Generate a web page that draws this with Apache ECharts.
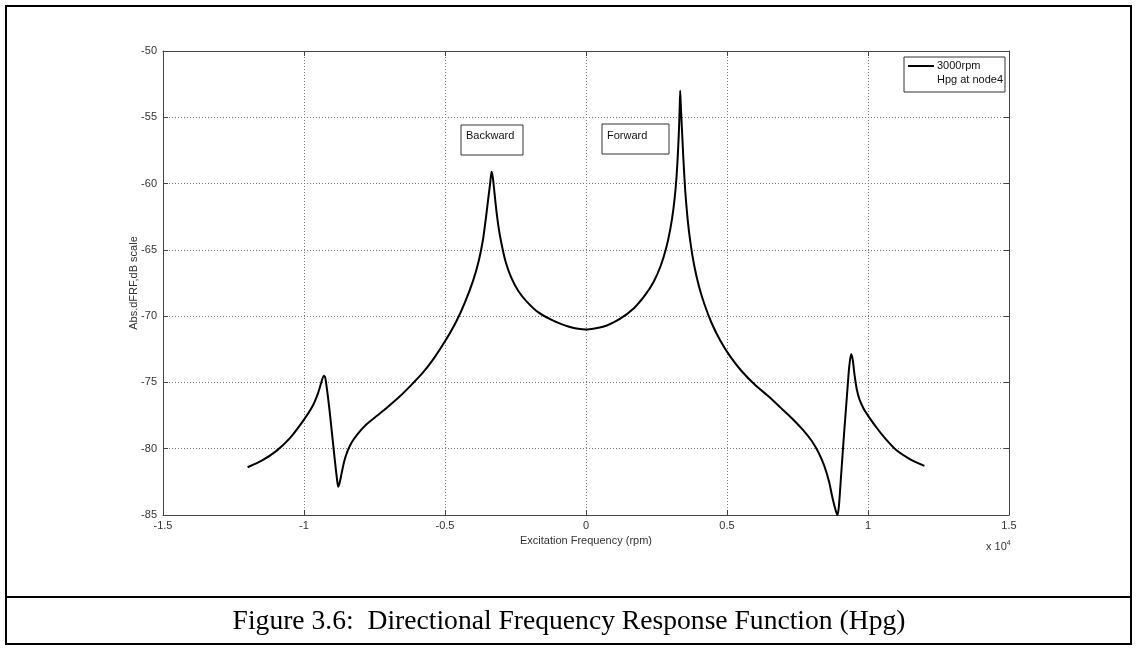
<!DOCTYPE html>
<html>
<head>
<meta charset="utf-8">
<script src="https://cdn.jsdelivr.net/npm/echarts@6/dist/echarts.min.js"></script>
<style>
html,body{margin:0;padding:0;background:#fff;}
#frf{width:1137px;height:651px;}
</style>
</head>
<body>
<div id="frf"></div>
<script>
// excitation frequency (x 10^4 rpm)
var freq = [-1.2, -1.15, -1.1, -1.05, -1.0, -0.97, -0.95, -0.94, -0.93, -0.925, -0.918, -0.91, -0.9, -0.89, -0.883,
  -0.879, -0.874, -0.867, -0.858, -0.846, -0.83, -0.81, -0.78, -0.74, -0.7, -0.66, -0.62, -0.58, -0.54, -0.5, -0.46,
  -0.43, -0.4, -0.38, -0.365, -0.355, -0.347, -0.34, -0.335, -0.33, -0.325, -0.318, -0.31, -0.3, -0.285, -0.265,
  -0.24, -0.21, -0.17, -0.12, -0.06, 0, 0.06, 0.12, 0.17, 0.21, 0.24, 0.265, 0.285, 0.3, 0.31, 0.318, 0.324, 0.329,
  0.332, 0.334, 0.336, 0.34, 0.345, 0.352, 0.36, 0.37, 0.383, 0.4, 0.42, 0.445, 0.475, 0.51, 0.55, 0.6, 0.65, 0.69,
  0.73, 0.77, 0.8, 0.825, 0.845, 0.862, 0.875, 0.886, 0.892, 0.897, 0.905, 0.915, 0.925, 0.933, 0.94, 0.946, 0.952,
  0.96, 0.97, 0.985, 1.0, 1.03, 1.06, 1.1, 1.15, 1.2];
// Abs dFRF, dB
var dfrf = [-81.4, -80.9, -80.2, -79.2, -77.8, -76.8, -75.8, -75.1, -74.5, -74.6, -75.6, -77.0, -79.0, -81.0, -82.3,
  -82.86, -82.6, -81.9, -81.0, -80.2, -79.5, -78.9, -78.2, -77.5, -76.8, -76.05, -75.2, -74.3, -73.2, -71.9, -70.4,
  -69.0, -67.3, -65.8, -64.2, -62.6, -61.2, -60.0, -59.1, -59.6, -60.6, -62.0, -63.3, -64.5, -65.9, -67.1,
  -68.1, -68.9, -69.7, -70.3, -70.8, -71.0, -70.8, -70.2, -69.4, -68.4, -67.4, -66.2, -64.8, -63.3, -61.9, -60.3, -58.5, -56.3,
  -54.5, -53.0, -54.0, -55.8, -58.0, -60.6, -62.6, -64.4, -66.1, -67.7, -69.1, -70.5, -71.8, -73.0, -74.1, -75.2, -76.1, -76.9,
  -77.7, -78.6, -79.4, -80.3, -81.3, -82.5, -83.8, -84.7, -85.0, -84.3, -81.9, -78.9, -76.1, -73.9, -72.85, -73.3, -74.4,
  -75.5, -76.3, -77.0, -77.5, -78.4, -79.2, -80.1, -80.8, -81.3];

var seriesName = '3000rpm';
var legendSub = 'Hpg at node4';
var notes = ['Backward', 'Forward'];

var chart = echarts.init(document.getElementById('frf'));
var txt = '#333';
var sans = 'Liberation Sans, Arial, sans-serif';
var dotted = {color: '#777', width: 1, type: [1, 2]};

var points = freq.map(function (f, i) { return [f, dfrf[i]]; });

var option = {
  animation: false,
  backgroundColor: '#fff',
  grid: {left: 163, top: 51, right: 128, bottom: 136},
  xAxis: [{
    type: 'value', min: -1.5, max: 1.5, interval: 0.5,
    name: 'Excitation Frequency (rpm)', nameLocation: 'middle', nameGap: 20, nameMoveOverlap: false,
    nameTextStyle: {color: txt, fontFamily: sans, fontSize: 11},
    axisLine: {onZero: false, lineStyle: {color: '#444', width: 1}},
    axisTick: {inside: true, length: 5, lineStyle: {color: '#444'}},
    axisLabel: {color: txt, fontFamily: sans, fontSize: 11, margin: 5},
    splitLine: {show: true, lineStyle: dotted}
  }, {
    type: 'value', min: -1.5, max: 1.5, interval: 0.5, position: 'top',
    axisLine: {onZero: false, lineStyle: {color: '#444', width: 1}},
    axisTick: {inside: true, length: 5, lineStyle: {color: '#444'}},
    axisLabel: {show: false}, splitLine: {show: false}
  }],
  yAxis: [{
    type: 'value', min: -85, max: -50, interval: 5,
    name: 'Abs.dFRF,dB scale', nameLocation: 'middle', nameGap: 24, nameRotate: 90, nameMoveOverlap: false,
    nameTextStyle: {color: txt, fontFamily: sans, fontSize: 11},
    axisLine: {show: true, onZero: false, lineStyle: {color: '#444', width: 1}},
    axisTick: {show: true, inside: true, length: 5, lineStyle: {color: '#444'}},
    axisLabel: {color: txt, fontFamily: sans, fontSize: 11, margin: 6},
    splitLine: {show: true, lineStyle: dotted}
  }, {
    type: 'value', min: -85, max: -50, interval: 5, position: 'right',
    axisLine: {show: true, onZero: false, lineStyle: {color: '#444', width: 1}},
    axisTick: {show: true, inside: true, length: 5, lineStyle: {color: '#444'}},
    axisLabel: {show: false}, splitLine: {show: false}
  }],
  series: [{
    name: seriesName,
    type: 'line',
    data: points,
    showSymbol: false,
    smooth: 0.2,
    lineStyle: {color: '#000', width: 2},
    z: 5
  }],
  graphic: [
    // page frame and caption
    {type: 'rect', shape: {x: 6, y: 6, width: 1125, height: 638}, style: {fill: 'none', stroke: '#000', lineWidth: 2}},
    {type: 'line', shape: {x1: 6, y1: 597, x2: 1131, y2: 597}, style: {stroke: '#000', lineWidth: 2}},
    {type: 'text', x: 569, y: 622, style: {text: 'Figure 3.6:  Directional Frequency Response Function (Hpg)',
      font: '27.6px "Liberation Serif", "Times New Roman", serif', fill: '#000', align: 'center', verticalAlign: 'middle'}},
    // x10^4 multiplier
    {type: 'text', x: 986, y: 540, style: {text: 'x 10{s|4}', rich: {s: {fontSize: 7, verticalAlign: 'top', padding: [0, 0, 6, 0]}},
      fontFamily: sans, fontSize: 11, fill: txt}},
    // legend
    {type: 'rect', shape: {x: 904, y: 57, width: 101, height: 35}, style: {fill: '#fff', stroke: '#333', lineWidth: 1}, z: 10},
    {type: 'line', shape: {x1: 908, y1: 66, x2: 934, y2: 66}, style: {stroke: '#000', lineWidth: 2}, z: 11},
    {type: 'text', x: 937, y: 66, style: {text: seriesName, fontFamily: sans, fontSize: 11, fill: '#111', verticalAlign: 'middle'}, z: 11},
    {type: 'text', x: 937, y: 80, style: {text: legendSub, fontFamily: sans, fontSize: 11, fill: '#111', verticalAlign: 'middle'}, z: 11},
    // annotations
    {type: 'rect', shape: {x: 461, y: 125, width: 62, height: 30}, style: {fill: '#fff', stroke: '#333', lineWidth: 1}, z: 10},
    {type: 'text', x: 466, y: 136, style: {text: notes[0], fontFamily: sans, fontSize: 11, fill: '#111', verticalAlign: 'middle'}, z: 11},
    {type: 'rect', shape: {x: 602, y: 124, width: 67, height: 30}, style: {fill: '#fff', stroke: '#333', lineWidth: 1}, z: 10},
    {type: 'text', x: 607, y: 136, style: {text: notes[1], fontFamily: sans, fontSize: 11, fill: '#111', verticalAlign: 'middle'}, z: 11}
  ]
};
chart.setOption(option);
</script>
</body>
</html>
